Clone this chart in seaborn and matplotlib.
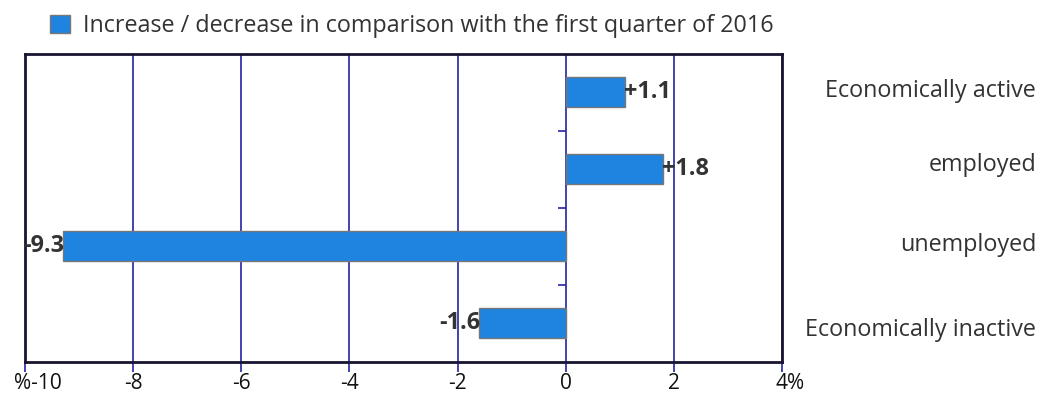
import matplotlib
matplotlib.use("Agg")
import matplotlib.pyplot as plt
from matplotlib.transforms import ScaledTranslation
import seaborn as sns
import pandas as pd

categories = ["Economically active", "employed", "unemployed", "Economically inactive"]
changes = [1.1, 1.8, -9.3, -1.6]
value_labels = ["+1.1", "+1.8", "-9.3", "-1.6"]
x_ticks = [-10, -8, -6, -4, -2, 0, 2, 4]
x_tick_labels = ["%-10", "-8", "-6", "-4", "-2", "0", "2", "4%"]
legend_label = "Increase / decrease in comparison with the first quarter of 2016"

df = pd.DataFrame({"category": categories, "change": changes})

sns.set_theme(style="white")
plt.rcParams["font.family"] = ["Open Sans", "DejaVu Sans"]

navy = "#2424a4"
bar_color = "#1f84e0"
text_color = "#333333"

fig = plt.figure(figsize=(10.4, 4), dpi=100)
ax = fig.add_axes([25 / 1040, 38.5 / 400, 757 / 1040, 308 / 400])

sns.barplot(data=df, x="change", y="category", order=categories, orient="h",
            color=bar_color, width=0.4, edgecolor="#777777", linewidth=1,
            saturation=1, ax=ax, label=legend_label)
if ax.get_legend() is not None:
    ax.get_legend().remove()

ax.set_xlim(-10, 4)
ax.set_ylim(3.5, -0.5)
ax.set_xticks(x_ticks, x_tick_labels)
ax.grid(axis="x", color=navy, linewidth=1.2)
ax.set_axisbelow(True)
ax.tick_params(axis="x", direction="out", length=7, width=1.2, color=navy,
               labelsize=15, labelcolor="#111111", pad=1.5, bottom=True)

# the percent sign sits after the number, so end labels are nudged right
xlabels = ax.get_xticklabels()
for lbl, dx in [(xlabels[0], 9), (xlabels[-1], 6)]:
    lbl.set_transform(lbl.get_transform() + ScaledTranslation(dx / 72, 0, fig.dpi_scale_trans))

# category names on the right side
ax.yaxis.tick_right()
ax.tick_params(axis="y", length=0, pad=183, labelsize=16.8, labelcolor=text_color)
for lbl, dy in zip(ax.get_yticklabels(), [3, 5, 3, -3]):
    lbl.set_horizontalalignment("right")
    lbl.set_transform(lbl.get_transform() + ScaledTranslation(0, dy / 72, fig.dpi_scale_trans))
ax.set_xlabel("")
ax.set_ylabel("")

# small marks on the zero line between categories
ax.hlines([0.5, 1.5, 2.5], -0.15, 0, color=navy, linewidth=1.2)

for s in ax.spines.values():
    s.set_color("#1a1430")
    s.set_linewidth(2)

ax.bar_label(ax.containers[0], labels=value_labels, padding=-1,
             fontsize=16.8, fontweight="bold", color=text_color)

handles, labels = ax.get_legend_handles_labels()
fig.legend(handles, labels, loc="lower left", bbox_to_anchor=(50 / 1040, 362 / 400),
           frameon=False, fontsize=16.8, handlelength=0.85, handleheight=0.85,
           handletextpad=0.55, labelcolor=text_color, borderaxespad=0, borderpad=0)

fig.savefig("out.png", dpi=100)
